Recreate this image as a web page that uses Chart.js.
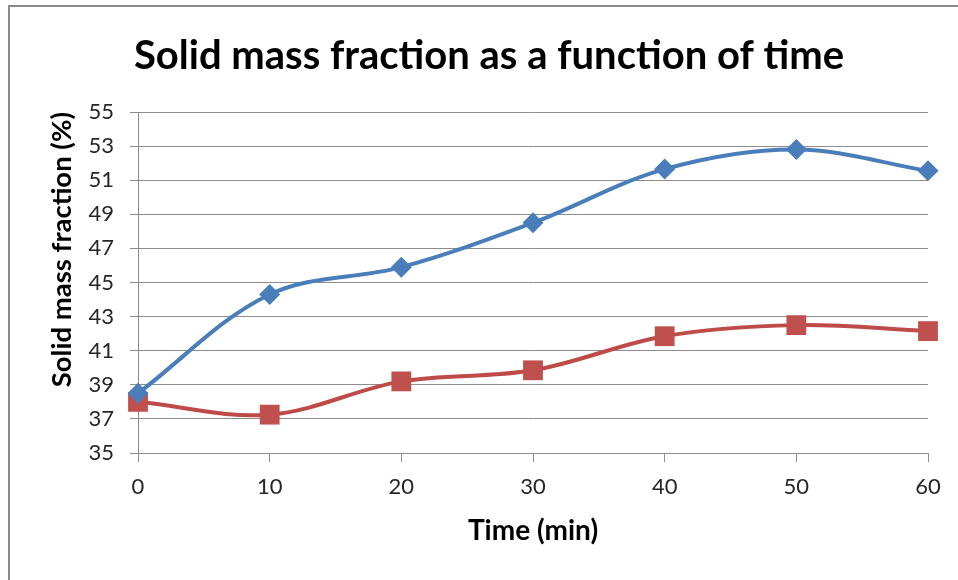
<!DOCTYPE html>
<html>
<head>
<meta charset="utf-8">
<script src="https://cdn.jsdelivr.net/npm/chart.js@4"></script>
<style>
html,body{margin:0;padding:0;background:#fff;}
#wrap{width:958px;height:580px;position:relative;}
</style>
</head>
<body>
<div id="wrap"><canvas id="grafico" width="958" height="580"></canvas></div>
<script>
// data
const tempo = [0, 10, 20, 30, 40, 50, 60];
const serieAzul = [38.5, 44.3, 45.9, 48.5, 51.65, 52.8, 51.55];
const serieVermelha = [38.0, 37.25, 39.2, 39.85, 41.85, 42.5, 42.15];
const yTicks = [35, 37, 39, 41, 43, 45, 47, 49, 51, 53, 55];

const FONTE = "Lato, 'Open Sans', sans-serif";
const CINZA = "#8c8c8c";

function pontos(valores){
return tempo.map((t,i)=>({x:t, y:valores[i]}));
}

// gray frame around the whole chart, like the spreadsheet export
const moldura = {
id:"moldura",
beforeDraw(chart){
const ctx = chart.ctx;
ctx.save();
ctx.fillStyle = "#fff";
ctx.fillRect(0,0,chart.width,chart.height);
ctx.strokeStyle = "#8a8a8a";
ctx.lineWidth = 2;
ctx.strokeRect(9,6,1200,1200);
ctx.restore();
}
};

new Chart(document.getElementById("grafico"),{
type:"line",
data:{
datasets:[
{
label:"Série 1",
data:pontos(serieAzul),
borderColor:"#4a7ebb",
backgroundColor:"#4a7ebb",
borderWidth:4,
pointStyle:"rectRot",
pointRadius:10.5,
pointHoverRadius:10.5,
pointBorderWidth:0,
tension:0.35,
clip:false
},
{
label:"Série 2",
data:pontos(serieVermelha),
borderColor:"#be4b48",
backgroundColor:"#c0504d",
borderWidth:4,
pointStyle:"rect",
pointRadius:14,
pointHoverRadius:14,
pointBorderWidth:0,
tension:0.35,
clip:false
}
]
},
options:{
responsive:false,
animation:false,
layout:{padding:{left:50,right:30,top:0,bottom:0}},
plugins:{
legend:{display:false},
tooltip:{enabled:false},
title:{
display:true,
text:"Solid mass fraction as a function of time",
color:"#000",
font:{family:FONTE,size:40,weight:"bold",lineHeight:1.2},
padding:{top:32,bottom:32}
}
},
scales:{
x:{
type:"linear",
min:0,max:60,
border:{display:false},
grid:{display:true,drawOnChartArea:false,drawTicks:true,tickLength:9,color:CINZA},
ticks:{stepSize:10,padding:11.8,color:"#262626",font:{family:FONTE,size:22},maxRotation:0},
title:{display:true,text:"Time (min)",color:"#000",font:{family:FONTE,size:28,weight:"bold",lineHeight:1.2},padding:{top:0,bottom:32.2}},
afterFit(scale){scale.height = 127;}
},
y:{
min:35,max:55,
border:{display:true,color:CINZA,width:1},
grid:{color:CINZA,lineWidth:1,tickLength:8},
afterBuildTicks(scale){scale.ticks = yTicks.map(v=>({value:v}));},
ticks:{padding:16,color:"#262626",font:{family:FONTE,size:22}},
title:{display:true,text:"Solid mass fraction (%)",color:"#000",align:"end",font:{family:FONTE,size:27.5,weight:"bold",lineHeight:"24px"},padding:{top:0,bottom:0}},
afterFit(scale){scale.width = 88;}
}
}
},
plugins:[moldura]
});
</script>
</body>
</html>
